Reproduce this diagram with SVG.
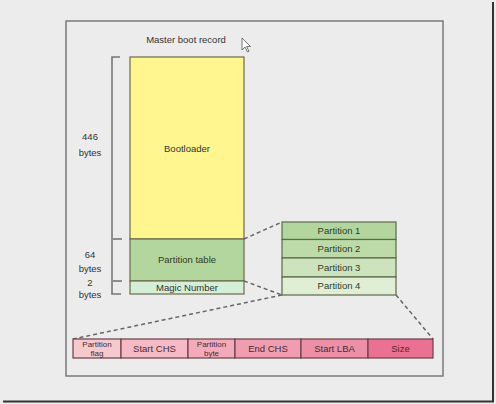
<svg xmlns="http://www.w3.org/2000/svg" width="496" height="404" viewBox="0 0 496 404">
<style>
text{font-family:"Liberation Sans",Arial,sans-serif;font-size:9.5px;fill:#333;text-anchor:middle}
.box{stroke:#6b6b4a;stroke-width:1.2}
.pbox{stroke:#5a6a48;stroke-width:1.2}
.fbox{stroke:#6a4048;stroke-width:1.2}
.dash{stroke:#666;stroke-width:1.5;stroke-dasharray:4 3;fill:none}
.br{stroke:#777;stroke-width:1.6;fill:none}
.pt{fill:#2f3d22}
.ft{fill:#4a2a30}
.sm{font-size:8px}
</style>
<rect width="496" height="404" fill="#ececec"/>
<line x1="493" y1="2" x2="493" y2="402" stroke="#333" stroke-width="2"/>
<line x1="3" y1="401.5" x2="494" y2="401.5" stroke="#333" stroke-width="2"/>
<rect x="66" y="21" width="377" height="355" fill="#ececec" stroke="#7a7a7a" stroke-width="1.5"/>
<text x="186" y="43">Master boot record</text>
<path d="M242 38 L242 50 L245 47 L247.5 52 L249 51.3 L246.6 46.5 L250.5 46.5 Z" fill="#fff" stroke="#555" stroke-width="0.8"/>
<g id="bracket">
<path class="br" d="M120 57 H112 V294 H121"/>
<line class="br" x1="113" y1="239" x2="122" y2="239"/>
<line class="br" x1="113" y1="281" x2="122" y2="281"/>
<text x="90" y="140">446</text><text x="90" y="156">bytes</text>
<text x="90" y="258">64</text><text x="90" y="272">bytes</text>
<text x="90" y="286">2</text><text x="90" y="298">bytes</text>
</g>
<g id="bootloader"><rect class="box" x="130" y="57" width="114" height="182" fill="#fff68f"/><text x="187" y="152">Bootloader</text></g>
<g id="partition-table"><rect class="box" x="130" y="239" width="114" height="42" fill="#b3d59e"/><text class="pt" x="187" y="263">Partition table</text></g>
<g id="magic-number"><rect class="box" x="130" y="281" width="114" height="13" fill="#d5eed8"/><text x="187" y="291">Magic Number</text></g>
<g id="partition-1"><rect class="pbox" x="282" y="222" width="114" height="17.5" fill="#b3d59e"/><text class="pt" x="339" y="234">Partition 1</text></g>
<g id="partition-2"><rect class="pbox" x="282" y="239.5" width="114" height="18.5" fill="#bddba8"/><text class="pt" x="339" y="252">Partition 2</text></g>
<g id="partition-3"><rect class="pbox" x="282" y="258" width="114" height="19" fill="#cde3bd"/><text class="pt" x="339" y="271">Partition 3</text></g>
<g id="partition-4"><rect class="pbox" x="282" y="277" width="114" height="18" fill="#e1eed6"/><text class="pt" x="339" y="289">Partition 4</text></g>
<g id="connectors">
<line class="dash" x1="244" y1="239" x2="282" y2="222"/>
<line class="dash" x1="244" y1="281" x2="282" y2="295"/>
<line class="dash" x1="282" y1="295" x2="73" y2="339"/>
<line class="dash" x1="396" y1="295" x2="433" y2="339"/>
</g>
<g id="partition-flag"><rect class="fbox" x="73" y="339" width="48" height="19" fill="#f6c9cf"/><text class="ft sm" x="97" y="346.5">Partition</text><text class="ft sm" x="97" y="356">flag</text></g>
<g id="start-chs"><rect class="fbox" x="121" y="339" width="67" height="19" fill="#f5bac6"/><text class="ft" x="154.5" y="352">Start CHS</text></g>
<g id="partition-byte"><rect class="fbox" x="188" y="339" width="47" height="19" fill="#f3abbb"/><text class="ft sm" x="211.5" y="346.5">Partition</text><text class="ft sm" x="211.5" y="356">byte</text></g>
<g id="end-chs"><rect class="fbox" x="235" y="339" width="66" height="19" fill="#f09db2"/><text class="ft" x="268" y="352">End CHS</text></g>
<g id="start-lba"><rect class="fbox" x="301" y="339" width="67" height="19" fill="#ee8fa8"/><text class="ft" x="334.5" y="352">Start LBA</text></g>
<g id="size"><rect class="fbox" x="368" y="339" width="65" height="19" fill="#ea7193"/><text class="ft" x="400.5" y="352">Size</text></g>
</svg>
